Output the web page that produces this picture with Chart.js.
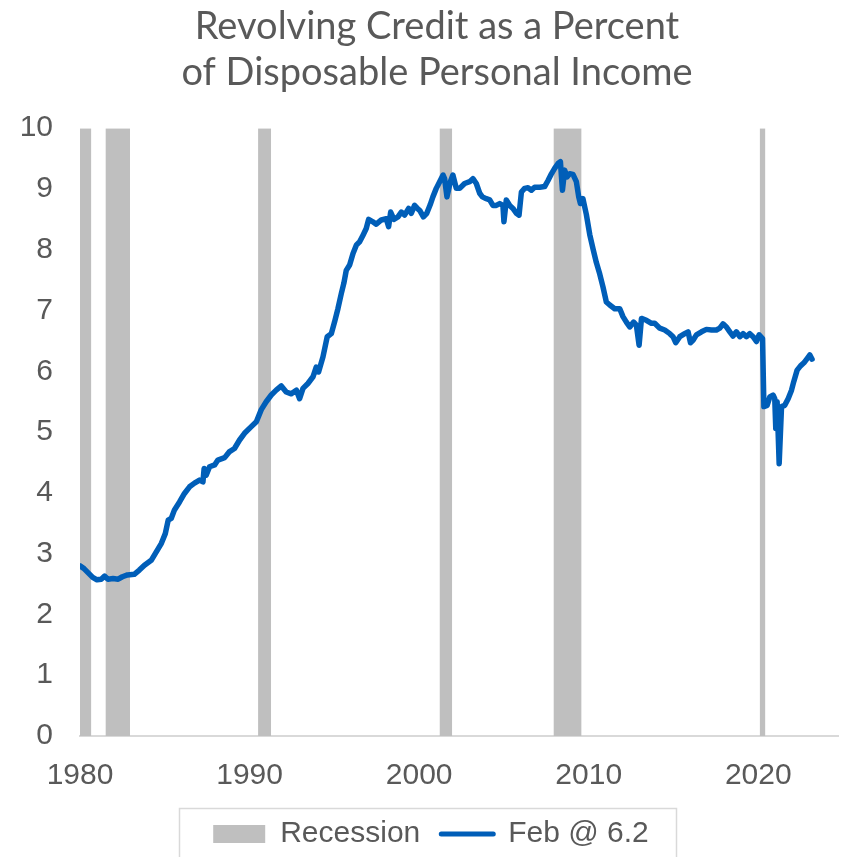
<!DOCTYPE html>
<html>
<head>
<meta charset="utf-8">
<title>Revolving Credit as a Percent of Disposable Personal Income</title>
<script src="https://cdn.jsdelivr.net/npm/chart.js@4.4.1/dist/chart.umd.min.js"></script>
<style>
  html, body { margin: 0; padding: 0; background: #ffffff; overflow: hidden; }
  canvas { display: block; }
</style>
</head>
<body>
<canvas id="chart" width="848" height="880"></canvas>
<script>
// Revolving consumer credit as a share of disposable personal income, percent
const years = [
  1980.00, 1980.25, 1980.50, 1980.75, 1981.00, 1981.25, 1981.45, 1981.65, 1981.95, 1982.25,
  1982.50, 1982.80, 1983.20, 1983.50, 1983.80, 1984.20, 1984.50, 1984.80, 1985.03, 1985.20,
  1985.38, 1985.57, 1985.87, 1986.16, 1986.46, 1986.75, 1987.05, 1987.25, 1987.32, 1987.44,
  1987.64, 1987.94, 1988.13, 1988.53, 1988.82, 1989.11, 1989.41, 1989.70, 1990.10, 1990.40,
  1990.69, 1990.98, 1991.28, 1991.57, 1991.87, 1992.16, 1992.46, 1992.76, 1992.95, 1993.15,
  1993.44, 1993.74, 1993.93, 1994.07, 1994.33, 1994.58, 1994.82, 1995.01, 1995.21, 1995.41,
  1995.56, 1995.70, 1995.90, 1996.10, 1996.30, 1996.49, 1996.69, 1996.88, 1997.02, 1997.27,
  1997.47, 1997.77, 1998.06, 1998.20, 1998.32, 1998.51, 1998.75, 1998.95, 1999.14, 1999.38,
  1999.54, 1999.73, 1999.90, 2000.05, 2000.25, 2000.45, 2000.65, 2000.81, 2001.01, 2001.21,
  2001.41, 2001.50, 2001.64, 2001.84, 2001.99, 2002.19, 2002.39, 2002.68, 2002.98, 2003.17,
  2003.37, 2003.57, 2003.73, 2003.96, 2004.16, 2004.35, 2004.55, 2004.75, 2004.94, 2005.00,
  2005.14, 2005.34, 2005.53, 2005.73, 2005.89, 2006.03, 2006.22, 2006.42, 2006.62, 2006.81,
  2007.11, 2007.40, 2007.60, 2007.80, 2007.99, 2008.19, 2008.33, 2008.45, 2008.58, 2008.72,
  2008.88, 2009.07, 2009.27, 2009.41, 2009.51, 2009.66, 2009.86, 2010.06, 2010.25, 2010.45,
  2010.65, 2010.84, 2011.04, 2011.24, 2011.53, 2011.83, 2012.02, 2012.22, 2012.42, 2012.65,
  2012.81, 2012.97, 2013.11, 2013.40, 2013.70, 2013.89, 2014.19, 2014.48, 2014.78, 2014.97,
  2015.13, 2015.37, 2015.66, 2015.86, 2016.00, 2016.15, 2016.35, 2016.65, 2016.94, 2017.24,
  2017.53, 2017.73, 2017.92, 2018.12, 2018.32, 2018.51, 2018.71, 2018.91, 2019.10, 2019.30,
  2019.50, 2019.69, 2019.89, 2020.05, 2020.25, 2020.33, 2020.52, 2020.68, 2020.87, 2020.97,
  2021.03, 2021.11, 2021.23, 2021.37, 2021.56, 2021.76, 2021.96, 2022.09, 2022.29, 2022.49,
  2022.69, 2022.88, 2023.04, 2023.17
];
const creditPct = [
  2.80, 2.75, 2.68, 2.61, 2.57, 2.58, 2.63, 2.58, 2.59, 2.58,
  2.62, 2.65, 2.66, 2.73, 2.81, 2.89, 3.03, 3.17, 3.33, 3.55,
  3.58, 3.72, 3.85, 3.99, 4.10, 4.16, 4.21, 4.18, 4.40, 4.29,
  4.43, 4.46, 4.54, 4.58, 4.68, 4.73, 4.87, 4.98, 5.09, 5.17,
  5.37, 5.50, 5.61, 5.69, 5.76, 5.66, 5.63, 5.69, 5.55, 5.72,
  5.80, 5.91, 6.07, 5.99, 6.24, 6.57, 6.62, 6.81, 7.03, 7.28,
  7.45, 7.66, 7.75, 7.94, 8.08, 8.13, 8.24, 8.35, 8.50, 8.46,
  8.42, 8.49, 8.51, 8.38, 8.62, 8.50, 8.54, 8.62, 8.57, 8.68,
  8.60, 8.73, 8.68, 8.64, 8.54, 8.60, 8.74, 8.87, 9.01, 9.12,
  9.23, 9.17, 8.87, 9.12, 9.23, 9.01, 9.01, 9.09, 9.12, 9.17,
  9.09, 8.93, 8.87, 8.84, 8.82, 8.73, 8.73, 8.76, 8.73, 8.46,
  8.82, 8.73, 8.68, 8.60, 8.57, 8.95, 9.01, 9.02, 8.98, 9.03,
  9.03, 9.04, 9.14, 9.25, 9.34, 9.42, 9.45, 8.98, 9.31, 9.20,
  9.25, 9.24, 9.12, 8.87, 8.76, 8.84, 8.58, 8.25, 8.02, 7.79,
  7.60, 7.39, 7.14, 7.09, 7.03, 7.03, 6.90, 6.81, 6.73, 6.81,
  6.76, 6.43, 6.87, 6.84, 6.79, 6.79, 6.71, 6.68, 6.62, 6.57,
  6.47, 6.57, 6.62, 6.65, 6.47, 6.51, 6.60, 6.65, 6.69, 6.68,
  6.68, 6.71, 6.78, 6.73, 6.65, 6.58, 6.65, 6.57, 6.62, 6.57,
  6.62, 6.57, 6.49, 6.60, 6.54, 5.42, 5.44, 5.58, 5.61, 5.55,
  5.06, 5.50, 4.48, 5.42, 5.44, 5.55, 5.69, 5.83, 6.02, 6.09,
  6.14, 6.21, 6.27, 6.20
];
const latestMonth = 'Feb';

// NBER recession periods (decimal years)
const recessionStarts = [1980.00, 1981.50, 1990.50, 2001.20, 2007.92, 2020.08];
const recessionEnds   = [1980.67, 1982.95, 1991.27, 2001.95, 2009.58, 2020.42];

const xTickYears = [1980, 1990, 2000, 2010, 2020];
const yTickValues = [0, 1, 2, 3, 4, 5, 6, 7, 8, 9, 10];

const LINE_BLUE = '#005EB8';
const SHADE_GREY = '#BFBFBF';
const TEXT_GREY = '#595959';
const AXIS_GREY = '#D9D9D9';
const SANS = "'Liberation Sans', Arial, sans-serif";
const Y_TOP = yTickValues[yTickValues.length - 1];

const seriesPoints = years.map((yr, i) => ({ x: yr, y: creditPct[i] }));

// Each recession becomes a filled block from 0 up to the top of the axis,
// separated from the next block by a gap point.
const shadePoints = [];
recessionStarts.forEach((s, i) => {
  shadePoints.push({ x: s, y: Y_TOP });
  shadePoints.push({ x: recessionEnds[i], y: Y_TOP });
  shadePoints.push({ x: recessionEnds[i], y: null });
});

const latestValue = creditPct[creditPct.length - 1];
const seriesLabel = latestMonth + ' @ ' + latestValue.toFixed(1);

// Legend row sits slightly left of the title's centre, inside a thin frame
const legendFrame = {
  id: 'legendFrame',
  afterLayout(chart) {
    const lg = chart.legend;
    if (lg) { lg.left -= 6; lg.right -= 6; }
  },
  afterDraw(chart) {
    const lg = chart.legend;
    if (!lg || !lg.legendHitBoxes || !lg.legendHitBoxes.length) return;
    const boxes = lg.legendHitBoxes;
    const left = Math.min(...boxes.map(b => b.left));
    const right = Math.max(...boxes.map(b => b.left + b.width));
    const top = Math.min(...boxes.map(b => b.top));
    const cy = top + boxes[0].height / 2;
    const ctx = chart.ctx;
    ctx.save();
    ctx.strokeStyle = AXIS_GREY;
    ctx.lineWidth = 1.5;
    ctx.strokeRect(Math.round(left - 34) + 0.5, Math.round(cy - 26) + 0.5, Math.round(right - left + 61), 70);
    ctx.restore();
  }
};

new Chart(document.getElementById('chart'), {
  type: 'line',
  data: {
    datasets: [
      {
        label: seriesLabel,
        data: seriesPoints,
        borderColor: LINE_BLUE,
        backgroundColor: LINE_BLUE,
        borderWidth: 5.5,
        borderJoinStyle: 'round',
        borderCapStyle: 'round',
        pointRadius: 0,
        tension: 0,
        fill: false
      },
      {
        label: 'Recession',
        data: shadePoints,
        borderWidth: 0,
        borderColor: 'rgba(0,0,0,0)',
        backgroundColor: SHADE_GREY,
        pointRadius: 0,
        tension: 0,
        spanGaps: false,
        fill: 'origin'
      }
    ]
  },
  options: {
    responsive: false,
    animation: false,
    devicePixelRatio: 1,
    layout: { padding: { left: 36, right: 10, top: 0, bottom: 21 } },
    plugins: {
      tooltip: { enabled: false },
      title: {
        display: true,
        text: ['Revolving Credit as a Percent', 'of Disposable Personal Income'],
        color: TEXT_GREY,
        font: { family: 'Lato', size: 38, weight: 'normal', lineHeight: 1.2 },
        padding: { top: 4, bottom: 33 }
      },
      legend: {
        display: true,
        position: 'bottom',
        labels: {
          color: TEXT_GREY,
          font: { family: SANS, size: 30 },
          usePointStyle: true,
          pointStyleWidth: 52,
          boxHeight: 18,
          padding: 21,
          generateLabels: () => [
            { text: 'Recession', fillStyle: SHADE_GREY, strokeStyle: SHADE_GREY, lineWidth: 0,
              pointStyle: 'rect', fontColor: TEXT_GREY, datasetIndex: 1, hidden: false },
            { text: seriesLabel, fillStyle: LINE_BLUE, strokeStyle: LINE_BLUE, lineWidth: 5,
              lineCap: 'round', pointStyle: 'line', fontColor: TEXT_GREY, datasetIndex: 0, hidden: false }
          ]
        }
      }
    },
    scales: {
      x: {
        type: 'linear',
        min: 1980,
        max: 2024.7,
        grid: { display: false },
        border: { display: true, color: AXIS_GREY, width: 2 },
        afterBuildTicks: (scale) => { scale.ticks = xTickYears.map(v => ({ value: v })); },
        afterFit: (scale) => { scale.height = 62; },
        ticks: {
          color: TEXT_GREY,
          font: { family: SANS, size: 30 },
          padding: 14,
          maxRotation: 0,
          autoSkip: false,
          callback: (v) => String(v)
        }
      },
      y: {
        min: 0,
        max: Y_TOP,
        grid: { display: false, drawTicks: false },
        border: { display: false },
        afterBuildTicks: (scale) => { scale.ticks = yTickValues.map(v => ({ value: v })); },
        afterFit: (scale) => {
          scale.width = 44;
          // let the tick labels extend into the left margin
          scale._computeLabelArea = () => undefined;
        },
        ticks: {
          color: TEXT_GREY,
          font: { family: SANS, size: 30 },
          padding: 27,
          callback: (v) => String(v)
        }
      }
    }
  },
  plugins: [legendFrame]
});
</script>
</body>
</html>
